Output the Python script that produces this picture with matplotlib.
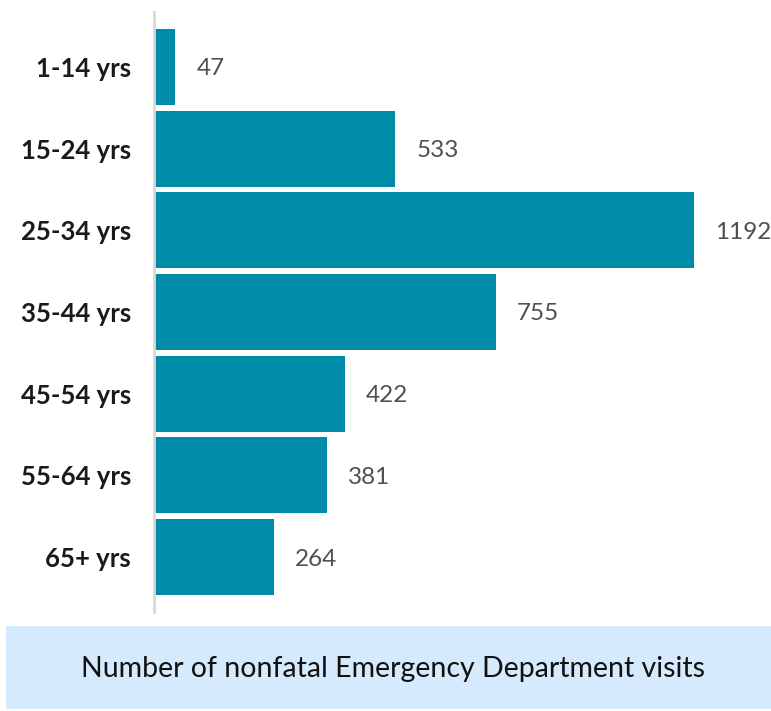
import matplotlib.pyplot as plt
from matplotlib.patches import Rectangle

# age groups and nonfatal ED visit counts
ages = ['1-14 yrs', '15-24 yrs', '25-34 yrs', '35-44 yrs', '45-54 yrs', '55-64 yrs', '65+ yrs']
visits = [47, 533, 1192, 755, 422, 381, 264]

W, H = 771, 711
fig = plt.figure(figsize=(W / 100, H / 100), dpi=100)

# chart area in pixel terms
left, right, top, bottom = 154, 771, 12, 612
ax = fig.add_axes([left / W, 1 - bottom / H, (right - left) / W, (bottom - top) / H])

ypos = list(range(len(ages)))
ax.barh(ypos, visits, height=0.93, color='#008ba8', left=0)
ax.set_ylim(len(ages) - 0.33, -0.67)
ax.set_xlim(0, (right - left) / 0.453)

for y, v in zip(ypos, visits):
    ax.annotate(str(v), (v, y), xytext=(21, 0), textcoords='offset pixels',
                ha='left', va='center_baseline', fontsize=17.5, color='#505050',
                family='Lato')

ax.set_yticks(ypos)
ax.set_yticklabels(ages, fontsize=18.5, fontweight='bold', color='#1a1a1a', family='Lato')
ax.tick_params(axis='y', length=0, pad=16.5)
ax.set_xticks([])
for side in ['top', 'right', 'bottom']:
    ax.spines[side].set_visible(False)
ax.spines['left'].set_color('#d9d9d9')
ax.spines['left'].set_linewidth(2)

# caption box underneath
fig.patches.append(Rectangle((6 / W, 1 - 709 / H), (W - 6) / W, 83 / H,
                             transform=fig.transFigure, facecolor='#d5eafc',
                             edgecolor='none'))
fig.text(393 / W, 1 - 667 / H, 'Number of nonfatal Emergency Department visits',
         ha='center', va='center_baseline', fontsize=20.5, color='#111111', family='Lato')

fig.savefig('out.png', dpi=100)
